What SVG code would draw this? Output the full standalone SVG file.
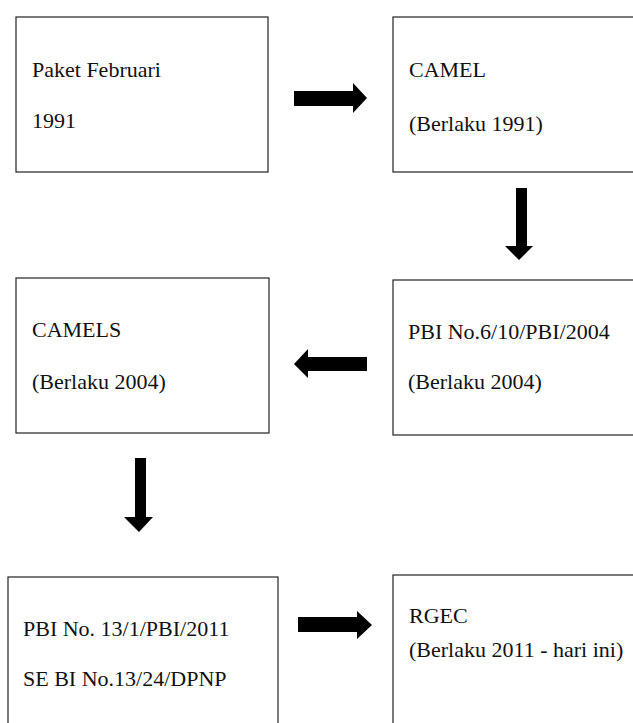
<svg xmlns="http://www.w3.org/2000/svg" width="633" height="723" viewBox="0 0 633 723">
<style>
.box{fill:#fff;stroke:#222;stroke-width:1.2}
.t{font-family:"Liberation Serif","Times New Roman",serif;font-size:22px;fill:#111}
.arr{fill:#000}
</style>
<rect width="633" height="723" fill="#fff"/>
<g id="node-paket">
<rect class="box" x="16" y="17" width="252" height="155"/>
<text class="t" x="32" y="77">Paket Februari</text>
<text class="t" x="32" y="128">1991</text>
</g>
<g id="node-camel">
<rect class="box" x="393" y="17" width="260" height="155"/>
<text class="t" x="409" y="77">CAMEL</text>
<text class="t" x="409" y="131">(Berlaku 1991)</text>
</g>
<g id="node-pbi2004">
<rect class="box" x="393" y="280" width="260" height="155"/>
<text class="t" x="408" y="339">PBI No.6/10/PBI/2004</text>
<text class="t" x="408" y="389">(Berlaku 2004)</text>
</g>
<g id="node-camels">
<rect class="box" x="16" y="278" width="253" height="155"/>
<text class="t" x="32" y="337">CAMELS</text>
<text class="t" x="32" y="389">(Berlaku 2004)</text>
</g>
<g id="node-pbi2011">
<rect class="box" x="8" y="577" width="270" height="170"/>
<text class="t" x="23" y="636">PBI No. 13/1/PBI/2011</text>
<text class="t" x="23" y="686">SE BI No.13/24/DPNP</text>
</g>
<g id="node-rgec">
<rect class="box" x="393" y="575" width="260" height="170"/>
<text class="t" x="409" y="623">RGEC</text>
<text class="t" x="409" y="657">(Berlaku 2011 - hari ini)</text>
</g>
<g id="connectors">
<polygon class="arr" points="294,91 353,91 353,83 367,98 353,113 353,106 294,106"/>
<polygon class="arr" points="516,188 527,188 527,246 533,246 519,260 505,246 516,246"/>
<polygon class="arr" points="367,357 308,357 308,349 294,364 308,378 308,371 367,371"/>
<polygon class="arr" points="135,458 146,458 146,517 153,517 139,532 124,517 135,517"/>
<polygon class="arr" points="298,617 357,617 357,611 372,625 357,639 357,632 298,632"/>
</g>
</svg>
